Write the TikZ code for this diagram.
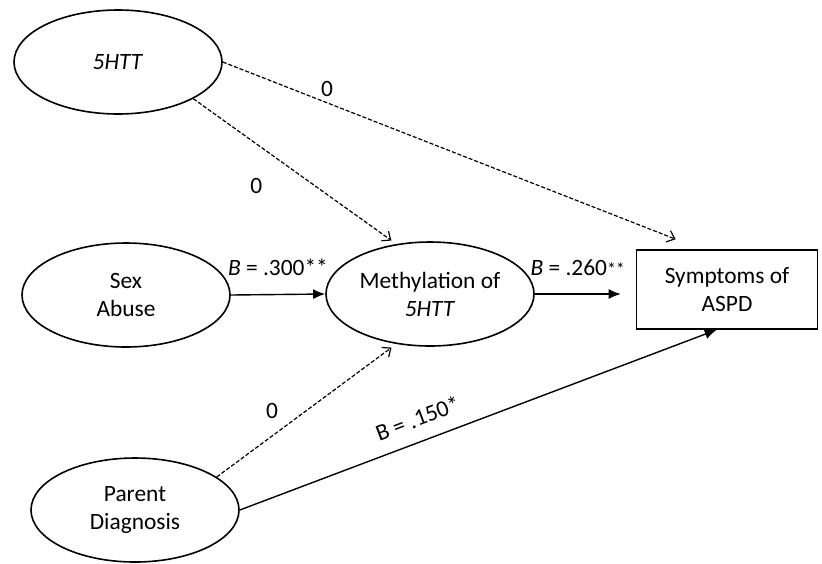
\documentclass[tikz,border=0pt]{standalone}
\usepackage{fontspec}
\setmainfont{Carlito}
\usetikzlibrary{arrows.meta,shapes.geometric,positioning,calc}

\begin{document}
\begin{tikzpicture}[x=0.5pt,y=-0.5pt,font=\fontsize{11.7}{14}\selectfont,
  var/.style={draw,ellipse,line width=0.8pt,align=center,inner sep=0pt,
    minimum width=104pt,minimum height=52pt},
  outcome/.style={draw,line width=0.8pt,align=center,minimum width=90.5pt,minimum height=39.5pt},
  sig/.style={-{Latex[length=6pt,width=5pt]},line width=0.7pt},
  ns/.style={-{Straight Barb[length=3.5pt,width=6pt]},dash pattern=on 2pt off 1pt,line width=0.6pt},
  lab/.style={inner sep=1pt}]
\useasboundingbox (0,0) rectangle (822,563);
\node[var] (htt) at (118,62) {\textit{5HTT}};
\node[var] (sex) at (126,295) {Sex\\ Abuse};
\node[var] (meth) at (430,294) {Methylation of\\ \textit{5HTT}};
\node[var] (par) at (135,510) {Parent\\ Diagnosis};
\node[outcome] (aspd) at (727,289.5) {Symptoms of\\ ASPD};
% free ends of the arrows into the outcome
\coordinate (top) at ($(aspd.north west)+(40,-10)$);
\coordinate (side) at ($(meth.east -| aspd.west)+(-15,0)$);
\coordinate (bot) at ($(aspd.south west)+(81,0)$);
\draw[ns] (htt.east) -- (top) node[lab,pos=0.23,above=2pt] {0};
\draw[ns,shorten >=3pt] (htt.-26) -- (meth.124)
  node[lab,midway,below left=2pt and 15pt] {0};
\draw[sig] (sex.east) -- (meth.west) node[lab,midway,above=8pt] {\textit{B} = .300**};
\draw[sig] (meth.east) -- (side) node[lab,midway,above=8pt] {\textit{B} = .260{\small**}};
\draw[ns,shorten >=3pt] (par.22) -- (meth.236) node[lab,midway,left=13pt] {0};
\draw[sig] (par.east) -- (bot) node[lab,pos=0.39,above=6pt,sloped] {B = .150*};
\end{tikzpicture}
\end{document}
